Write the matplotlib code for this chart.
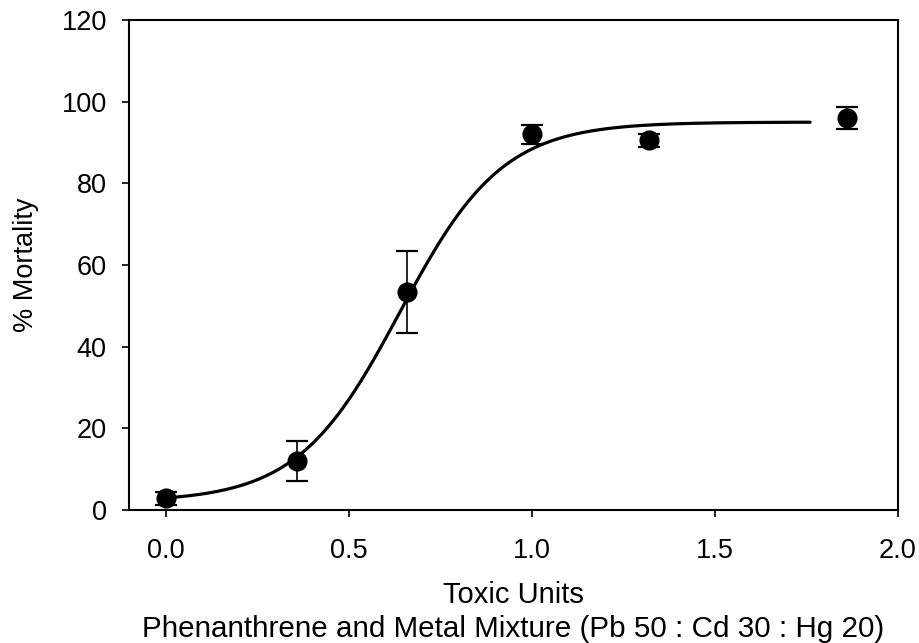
import numpy as np
import matplotlib
matplotlib.use("Agg")
import matplotlib.pyplot as plt

plt.rcParams['font.family'] = ['Liberation Sans', 'DejaVu Sans']

# Observed data (toxic units vs % mortality, with error bars)
toxic_units = [0.0, 0.36, 0.66, 1.0, 1.32, 1.86]
mortality = [2.9, 12.1, 53.4, 92.0, 90.5, 96.0]
mortality_err = [1.6, 4.9, 10.0, 2.4, 1.7, 2.65]

# Fitted sigmoid (logistic) parameters: y0 + a / (1 + exp(-(x - x0)/b))
fit_params = {"y0": 2.0, "a": 93.0, "x0": 0.64, "b": 0.14}
fit_range = [0.0, 1.76]

xticks = [0.0, 0.5, 1.0, 1.5, 2.0]
xtick_labels = ["0.0", "0.5", "1.0", "1.5", "2.0"]
yticks = [0, 20, 40, 60, 80, 100, 120]

x_label_1 = "Toxic Units"
x_label_2 = "Phenanthrene and Metal Mixture (Pb 50 : Cd 30 : Hg 20)"
y_label = "% Mortality"

fig = plt.figure(figsize=(9.19, 6.43), dpi=100)
ax = fig.add_axes([129/919, 1 - 510/643, (898 - 129)/919, (510 - 20)/643])

xf = np.linspace(fit_range[0], fit_range[1], 300)
p = fit_params
yf = p["y0"] + p["a"] / (1 + np.exp(-(xf - p["x0"]) / p["b"]))
ax.plot(xf, yf, color='black', lw=2.3, solid_capstyle='round', zorder=2)

ax.errorbar(toxic_units, mortality, yerr=mortality_err, fmt='o', color='black',
            markersize=13.5, ecolor='black', elinewidth=1.2, capsize=8,
            capthick=1.6, zorder=3)

ax.set_xlim(-0.1, 2.0)
ax.set_ylim(0, 120)
ax.set_xticks(xticks)
ax.set_xticklabels(xtick_labels)
ax.set_yticks(yticks)
for s in ax.spines.values():
    s.set_linewidth(1.5)
ax.tick_params(direction='out', length=5, width=1.2, labelsize=19.5, pad=11,
               top=False, right=False)
ax.tick_params(axis='x', pad=15)

ax.set_ylabel(y_label, fontsize=19.5, labelpad=16)

fig.text(513/919, 1 - 603/643, x_label_1, fontsize=21, ha='center', va='baseline')
fig.text(513/919, 1 - 637/643, x_label_2, fontsize=21.3, ha='center', va='baseline')

fig.savefig("out.png", dpi=100)
